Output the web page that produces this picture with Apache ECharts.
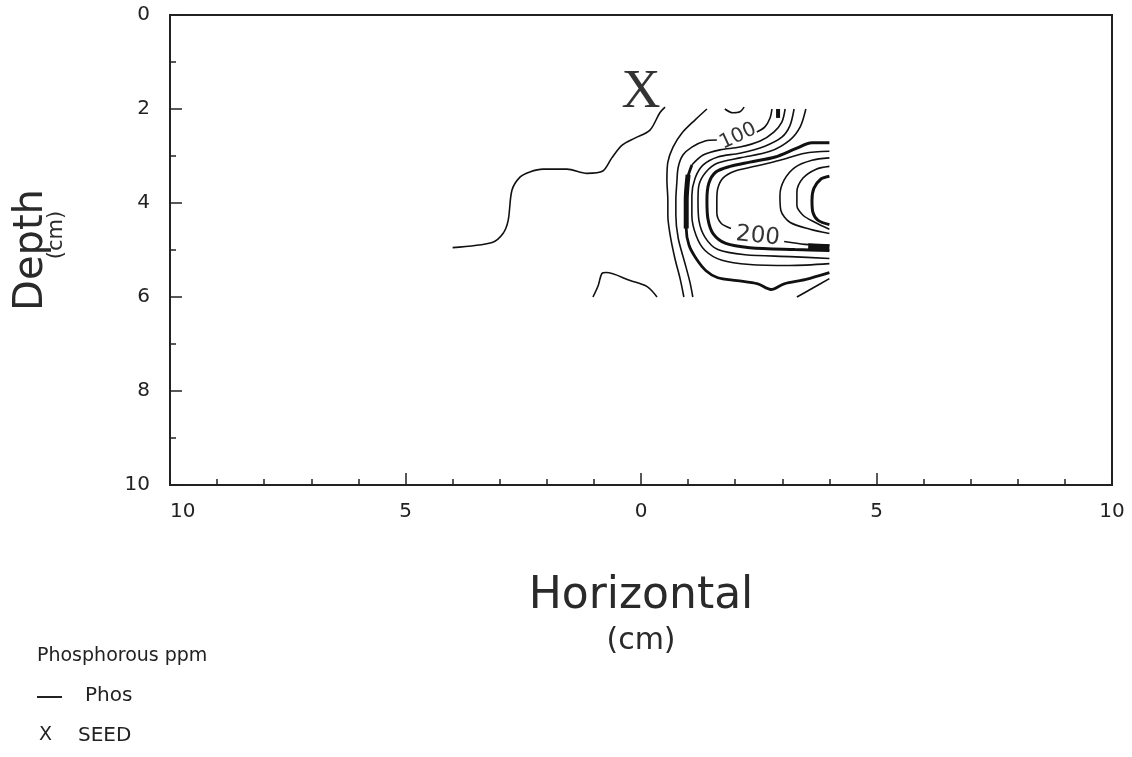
<!DOCTYPE html>
<html><head><meta charset="utf-8">
<script src="https://cdn.jsdelivr.net/npm/echarts@6/dist/echarts.min.js"></script>
<style>html,body{margin:0;padding:0;background:#fff}#c{width:1132px;height:757px}</style>
</head><body><div id="c"></div>
<script>
// ---- data (cm) ----
const phosWest = [[-4.0,4.95],[-3.16,4.84],[-2.93,4.65],[-2.82,4.37],[-2.74,3.73],[-2.57,3.45],[-2.36,3.34],[-2.08,3.28],[-1.57,3.28],[-1.15,3.37],[-0.81,3.32],[-0.62,3.04],[-0.40,2.77],[-0.13,2.62],[0.19,2.45],[0.40,2.08],[0.51,1.96]];
const phosSouthWest = [[-1.02,6.0],[-0.91,5.76],[-0.83,5.5],[-0.74,5.48],[-0.23,5.65],[0.13,5.78],[0.34,6.0]];
const phosC1 = [[1.40,2.0],[1.15,2.23],[0.87,2.51],[0.68,2.81],[0.57,3.13],[0.55,3.51],[0.57,3.94],[0.57,4.26],[0.62,4.69],[0.72,5.18],[0.83,5.61],[0.91,6.0]];
const phos100Top = [[2.78,2.0],[2.74,2.19],[2.63,2.38],[2.46,2.49]];
const phos100 = [[1.61,2.66],[1.36,2.68],[1.08,2.81],[0.89,2.98],[0.79,3.24],[0.76,3.58],[0.74,3.94],[0.74,4.26],[0.79,4.75],[0.93,5.27],[1.04,5.69],[1.10,6.0]];
const phosC3Top = [[3.06,2.0],[2.99,2.28],[2.82,2.49],[2.53,2.68],[2.10,2.81],[1.68,2.87],[1.32,2.98],[1.08,3.19]];
const phosC3 = [[1.08,3.19],[0.98,3.51],[0.96,3.94],[0.96,4.54],[1.02,4.90],[1.17,5.18],[1.38,5.44],[1.63,5.59],[2.04,5.65],[2.48,5.72],[2.76,5.84],[3.04,5.72],[3.48,5.63],[4.0,5.48]];
const phosC3Heavy = [[1.0,3.40],[0.96,3.94],[0.96,4.54]];
const phosC4 = [[3.25,2.0],[3.16,2.36],[2.99,2.60],[2.63,2.79],[2.10,2.94],[1.63,3.02],[1.32,3.19],[1.15,3.47],[1.08,3.84],[1.08,4.26],[1.17,4.69],[1.36,5.01],[1.72,5.22],[2.31,5.31],[3.16,5.33],[4.0,5.29]];
const phosC5 = [[3.50,2.0],[3.38,2.38],[3.16,2.66],[2.74,2.90],[2.10,3.04],[1.63,3.15],[1.38,3.34],[1.23,3.62],[1.21,3.94],[1.23,4.37],[1.36,4.73],[1.63,4.99],[2.21,5.10],[3.16,5.14],[4.0,5.18]];
const phosC6 = [[4.0,2.72],[3.63,2.72],[3.27,2.85],[2.85,3.02],[2.31,3.13],[1.89,3.22],[1.59,3.34],[1.44,3.58],[1.40,3.94],[1.42,4.33],[1.53,4.65],[1.80,4.86],[2.31,4.95],[3.27,4.99],[4.0,5.01]];
const phos200West = [[4.0,2.90],[3.48,2.94],[2.95,3.09],[2.42,3.22],[2.00,3.32],[1.74,3.47],[1.63,3.69],[1.61,3.94],[1.61,4.20],[1.70,4.43],[1.91,4.54]];
const phos200East = [[3.04,4.82],[3.48,4.88],[4.0,4.90]];
const phos200Heavy = [[3.55,4.93],[4.0,4.95]];
const phosU1 = [[4.0,3.04],[3.63,3.09],[3.27,3.24],[3.04,3.51],[2.95,3.84],[2.97,4.16],[3.16,4.41],[3.59,4.56],[4.0,4.65]];
const phosU2 = [[4.0,3.22],[3.72,3.28],[3.44,3.47],[3.31,3.77],[3.31,4.05],[3.44,4.26],[3.69,4.41],[4.0,4.56]];
const phosU3 = [[4.0,3.43],[3.82,3.49],[3.67,3.69],[3.63,3.94],[3.65,4.20],[3.76,4.37],[4.0,4.46]];
const phosTopHook = [[1.78,2.0],[1.95,2.08],[2.10,2.06],[2.19,1.96]];
const phosTopTick = [[2.91,2.0],[2.91,2.19]];
const phosSouthEast = [[3.31,6.0],[3.63,5.82],[4.0,5.61]];
const seedPoint = [[0, 1.65]];
const label100 = [[2.06, 2.58]];
const label200 = [[2.48, 4.71]];
const xRange = [-10, 10];
const yRange = [0, 10];

const ink = '#111';
function phos(data, w) {
  return { name: 'Phos', type: 'line', data: data, symbol: 'none', smooth: 0.3,
    lineStyle: { color: ink, width: w }, silent: true, z: 3 };
}
function tag(data, text, rot, size) {
  return { type: 'scatter', data: data, symbolSize: 0, silent: true, z: 4,
    label: { show: true, position: 'inside', formatter: text, rotate: rot,
      fontFamily: 'DejaVu Sans', fontSize: size, color: '#000', textBorderWidth: 0 } };
}

const chart = echarts.init(document.getElementById('c'), null, { renderer: 'canvas' });
chart.setOption({
  backgroundColor: '#fff',
  animation: false,
  grid: { left: 170, right: 20, top: 15, bottom: 272, show: true, borderColor: '#222', borderWidth: 2 },
  xAxis: {
    type: 'value', min: xRange[0], max: xRange[1], interval: 5,
    axisLine: { show: true, onZero: false, lineStyle: { color: '#222', width: 2 } },
    axisTick: { show: true, inside: true, length: 12, lineStyle: { color: '#222', width: 1.5 } },
    minorTick: { show: true, splitNumber: 5, length: 6, lineStyle: { color: '#222', width: 1.5 } },
    splitLine: { show: false },
    axisLabel: { formatter: v => String(Math.abs(v)), fontFamily: 'DejaVu Sans', fontSize: 20, color: '#222', margin: 17, alignMinLabel: 'left' },
    name: '{h|Horizontal}\n{c|(cm)}', nameLocation: 'middle', nameGap: 88,
    nameTextStyle: { fontFamily: 'DejaVu Sans', color: '#2a2a2a',
      rich: {
        h: { fontFamily: 'DejaVu Sans', fontSize: 44, lineHeight: 48, color: '#2a2a2a' },
        c: { fontFamily: 'DejaVu Sans', fontSize: 30, lineHeight: 40, color: '#2a2a2a' }
      } }
  },
  yAxis: {
    type: 'value', inverse: true, min: yRange[0], max: yRange[1], interval: 2,
    axisLine: { show: true, onZero: false, lineStyle: { color: '#222', width: 2 } },
    axisTick: { show: true, inside: true, length: 12, lineStyle: { color: '#222', width: 1.5 } },
    minorTick: { show: true, splitNumber: 2, length: 6, lineStyle: { color: '#222', width: 1.5 } },
    splitLine: { show: false },
    axisLabel: { fontFamily: 'DejaVu Sans', fontSize: 20, color: '#222', margin: 20 },
    name: '{d|Depth}\n{c|(cm)}', nameLocation: 'middle', nameGap: 106,
    nameTextStyle: { fontFamily: 'DejaVu Sans', color: '#2a2a2a',
      rich: {
        d: { fontFamily: 'DejaVu Sans', fontSize: 40, lineHeight: 34, color: '#2a2a2a' },
        c: { fontFamily: 'DejaVu Sans', fontSize: 21, lineHeight: 15, color: '#2a2a2a', padding: [0, 0, 0, 30] }
      } }
  },
  graphic: [
    { type: 'text', left: 37, top: 647, style: { text: 'Phosphorous ppm', fontFamily: 'DejaVu Sans', fontSize: 19, fill: '#222' } },
    { type: 'line', shape: { x1: 37, y1: 697, x2: 62, y2: 697 }, style: { stroke: '#222', lineWidth: 2 } },
    { type: 'text', left: 85, top: 686, style: { text: 'Phos', fontFamily: 'DejaVu Sans', fontSize: 20, fill: '#222' } },
    { type: 'text', left: 39, top: 726, style: { text: 'X', fontFamily: 'DejaVu Sans', fontSize: 19, fill: '#222' } },
    { type: 'text', left: 78, top: 726, style: { text: 'SEED', fontFamily: 'DejaVu Sans', fontSize: 20, fill: '#222' } }
  ],
  series: [
    phos(phosWest, 1.6), phos(phosSouthWest, 1.6), phos(phosC1, 1.6),
    phos(phos100Top, 1.6), phos(phos100, 1.6),
    phos(phosC3Top, 1.6), phos(phosC3, 2.8), phos(phosC3Heavy, 5),
    phos(phosC4, 1.6), phos(phosC5, 1.6), phos(phosC6, 3),
    phos(phos200West, 1.6), phos(phos200East, 1.6), phos(phos200Heavy, 7),
    phos(phosU1, 1.6), phos(phosU2, 1.6), phos(phosU3, 3),
    phos(phosTopHook, 1.6), phos(phosTopTick, 4), phos(phosSouthEast, 1.6),
    tag(label100, '100', 25, 20),
    tag(label200, '200', -6, 23),
    { name: 'SEED', type: 'scatter', data: seedPoint, symbolSize: 0, silent: true, z: 5,
      label: { show: true, position: 'inside', formatter: 'X', fontFamily: 'Liberation Serif', fontSize: 54, color: '#000', textBorderWidth: 0 } }
  ]
});
</script></body></html>
